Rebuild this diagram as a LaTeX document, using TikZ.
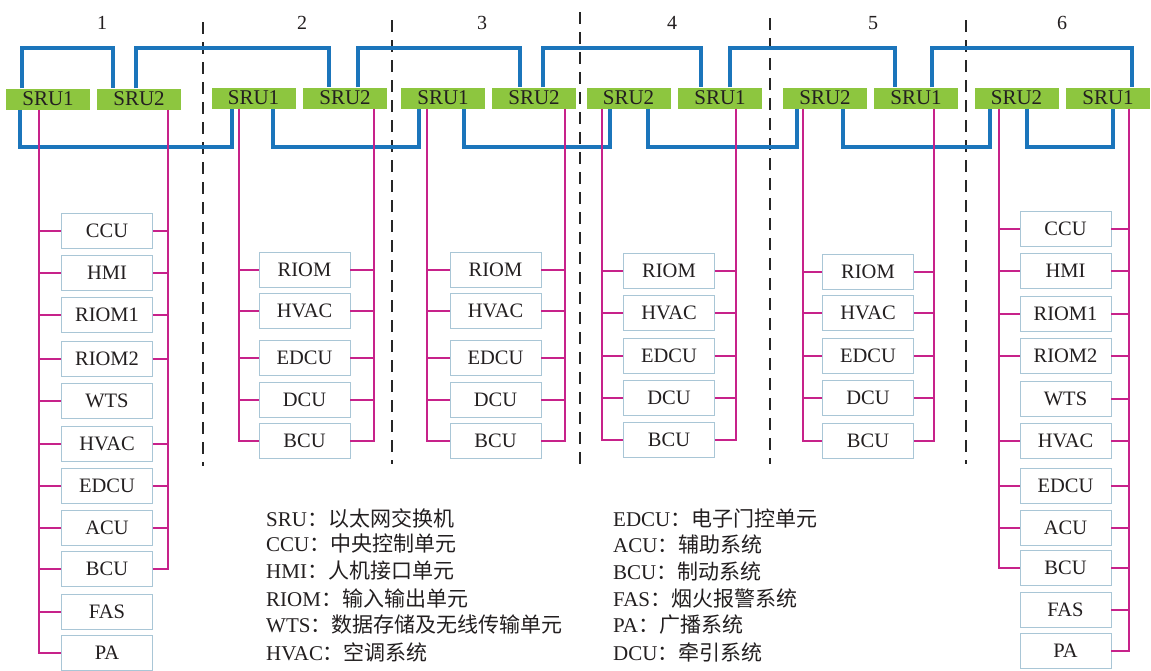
\documentclass[tikz,border=0pt]{standalone}
\usepackage{fontspec}
\setmainfont{Liberation Serif}
\newfontfamily\cjk{Noto Sans CJK SC}
\definecolor{srugreen}{HTML}{8DC63F}
\definecolor{blueline}{HTML}{1B75BB}
\definecolor{magline}{HTML}{C7228A}
\definecolor{boxline}{HTML}{A9C6D6}
\definecolor{txt}{HTML}{231F20}
\begin{document}
\begin{tikzpicture}[x=1pt,y=-1pt,
  sru/.style={fill=srugreen, minimum width=84pt, minimum height=21pt, inner sep=0pt, font=\fontsize{21}{21}\selectfont, text=txt},
  dev/.style={draw=boxline, line width=0.9pt, fill=white, minimum width=91pt, minimum height=35pt, inner sep=0pt, font=\fontsize{20.5}{20.5}\selectfont, text=txt},
  bus/.style={draw=blueline, line width=4pt},
  tap/.style={draw=magline, line width=2.5pt},
  sep/.style={draw=black!85, line width=2pt, dash pattern=on 12pt off 8pt},
  num/.style={inner sep=0pt, font=\fontsize{20}{20}\selectfont, text=txt},
  legend/.style={anchor=west, inner sep=0pt, font=\fontsize{21}{21}\selectfont, text=txt}]
\useasboundingbox (0,0) rectangle (1151,670);
\fill[white] (0,0) rectangle (1151,670);

% car numbers
\node[num] (n1) at (102,23) {1};
\node[num] (n2) at (302,23) {2};
\node[num] (n3) at (482,23) {3};
\node[num] (n4) at (672,23) {4};
\node[num] (n5) at (873,23) {5};
\node[num] (n6) at (1062,23) {6};

% separators
\draw[sep] (203,22) -- (203,466);
\draw[sep] (392,20) -- (392,464);
\draw[sep] (580,12) -- (580,470);
\draw[sep] (770,18) -- (770,464);
\draw[sep] (966,20) -- (966,464);

% SRU boxes
\node[sru] (L1) at (48,99) {SRU1};
\node[sru] (R1) at (139,99) {SRU2};
\node[sru] (L2) at (253.5,98) {SRU1};
\node[sru] (R2) at (345,98) {SRU2};
\node[sru] (L3) at (443,98) {SRU1};
\node[sru] (R3) at (534,98) {SRU2};
\node[sru] (L4) at (628.5,98) {SRU2};
\node[sru] (R4) at (720,98) {SRU1};
\node[sru] (L5) at (825,98) {SRU2};
\node[sru] (R5) at (916,98) {SRU1};
\node[sru] (L6) at (1016.5,98) {SRU2};
\node[sru] (R6) at (1108,98) {SRU1};

\coordinate (tb) at (0,48);
\coordinate (bb) at (0,147);

% blue ring, top
\draw[bus] (22,0 |- L1.north) |- (tb -| 113,0) -- (113,0 |- R1.north);
\draw[bus] (136,0 |- R1.north) |- (tb -| 329,0) -- (329,0 |- R2.north);
\draw[bus] (358,0 |- R2.north) |- (tb -| 520,0) -- (520,0 |- R3.north);
\draw[bus] (543,0 |- R3.north) |- (tb -| 701,0) -- (701,0 |- R4.north);
\draw[bus] (730,0 |- R4.north) |- (tb -| 895,0) -- (895,0 |- R5.north);
\draw[bus] (932,0 |- R5.north) |- (tb -| 1132,0) -- (1132,0 |- R6.north);
% blue ring, bottom
\draw[bus] (20,0 |- L1.south) |- (bb -| 232,0) -- (232,0 |- L2.south);
\draw[bus] (273,0 |- L2.south) |- (bb -| 419,0) -- (419,0 |- L3.south);
\draw[bus] (464,0 |- L3.south) |- (bb -| 610,0) -- (610,0 |- L4.south);
\draw[bus] (648,0 |- L4.south) |- (bb -| 797,0) -- (797,0 |- L5.south);
\draw[bus] (843,0 |- L5.south) |- (bb -| 990,0) -- (990,0 |- L6.south);
\draw[bus] (1027,0 |- L6.south) |- (bb -| 1113,0) -- (1113,0 |- R6.south);

% car 1 devices
\foreach \t/\y [count=\i] in {CCU/231,HMI/273,RIOM1/315,RIOM2/359,WTS/401,HVAC/444,EDCU/486,ACU/528,BCU/569,FAS/612,PA/653}
  \node[dev] (d1-\i) at (107,\y) {\t};
\draw[tap] (39,0 |- L1.south) |- (d1-11.west);
\foreach \i in {1,...,10} \draw[tap] (39,0 |- d1-\i.west) -- (d1-\i.west);
\draw[tap] (168,0 |- R1.south) |- (d1-9.east);
\foreach \i in {1,2,3,4,6,7,8} \draw[tap] (d1-\i.east) -- (168,0 |- d1-\i.east);

% car 6 devices
\foreach \t/\y [count=\i] in {CCU/229,HMI/271,RIOM1/314,RIOM2/356,WTS/399,HVAC/441,EDCU/486,ACU/528,BCU/568,FAS/610,PA/651}
  \node[dev] (d6-\i) at (1065.5,\y) {\t};
\draw[tap] (999,0 |- L6.south) |- (d6-9.west);
\foreach \i in {1,2,3,4,6,7,8} \draw[tap] (999,0 |- d6-\i.west) -- (d6-\i.west);
\draw[tap] (1129,0 |- R6.south) |- (d6-11.east);
\foreach \i in {1,...,10} \draw[tap] (d6-\i.east) -- (1129,0 |- d6-\i.east);

% middle cars
\foreach \k/\cx/\lx/\rx/\ya/\yb/\yc/\yd/\ye in
  {2/304.5/239/374/270/311/358/400/441,
   3/495.5/427/565/270/311/358/400/441,
   4/669/602/736/271/313/356/398/440,
   5/868/803/934/272/313/356/398/441}{
  \node[dev] (d\k-1) at (\cx,\ya) {RIOM};
  \node[dev] (d\k-2) at (\cx,\yb) {HVAC};
  \node[dev] (d\k-3) at (\cx,\yc) {EDCU};
  \node[dev] (d\k-4) at (\cx,\yd) {DCU};
  \node[dev] (d\k-5) at (\cx,\ye) {BCU};
  \draw[tap] (\lx,0 |- L\k.south) |- (d\k-5.west);
  \draw[tap] (\rx,0 |- R\k.south) |- (d\k-5.east);
  \foreach \i in {1,...,4}{
    \draw[tap] (\lx,0 |- d\k-\i.west) -- (d\k-\i.west);
    \draw[tap] (d\k-\i.east) -- (\rx,0 |- d\k-\i.east);
  }
}

% legend
\node[legend] (g1) at (266,518) {SRU{\cjk ：以太网交换机}};
\node[legend] (g2) at (266,544) {CCU{\cjk ：中央控制单元}};
\node[legend] (g3) at (266,571) {HMI{\cjk ：人机接口单元}};
\node[legend] (g4) at (266,598) {RIOM{\cjk ：输入输出单元}};
\node[legend] (g5) at (266,625) {WTS{\cjk ：数据存储及无线传输单元}};
\node[legend] (g6) at (266,652) {HVAC{\cjk ：空调系统}};
\node[legend] (h1) at (613,518) {EDCU{\cjk ：电子门控单元}};
\node[legend] (h2) at (613,544) {ACU{\cjk ：辅助系统}};
\node[legend] (h3) at (613,571) {BCU{\cjk ：制动系统}};
\node[legend] (h4) at (613,598) {FAS{\cjk ：烟火报警系统}};
\node[legend] (h5) at (613,625) {PA{\cjk ：广播系统}};
\node[legend] (h6) at (613,652) {DCU{\cjk ：牵引系统}};
\end{tikzpicture}
\end{document}
